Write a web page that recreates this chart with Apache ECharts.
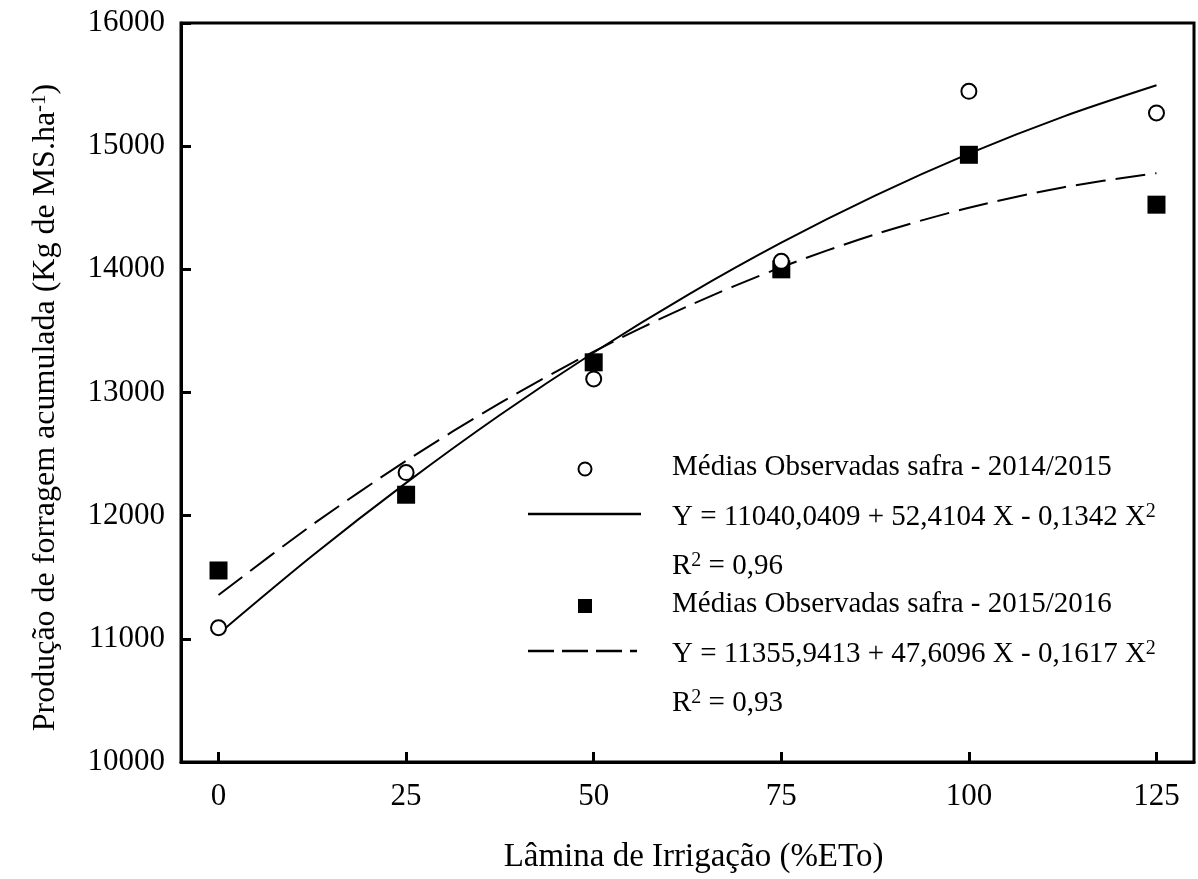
<!DOCTYPE html>
<html>
<head>
<meta charset="utf-8">
<script src="https://cdn.jsdelivr.net/npm/echarts@6/dist/echarts.min.js"></script>
<style>
  html, body { margin: 0; padding: 0; background: #fff; }
  #chart { width: 1198px; height: 879px; }
</style>
</head>
<body>
<div id="chart"></div>
<script>
// Irrigation levels (% ETo) and observed mean forage yield per season
const irrigation = [0, 25, 50, 75, 100, 125];
const obs2014 = [11090, 12350, 13110, 14065, 15445, 15270];
const obs2015 = [11555, 12170, 13245, 14000, 14930, 14525];

// Fitted quadratic curves, sampled every 12.5 % ETo
const fitX = [0, 12.5, 25, 37.5, 50, 62.5, 75, 87.5, 100, 112.5, 125];
const fit2014 = [11040, 11674, 12266, 12817, 13325, 13791, 14216, 14598, 14939, 15238, 15494];
const fit2015 = [11356, 11926, 12445, 12914, 13332, 13700, 14017, 14284, 14500, 14665, 14781];

const xTicks = [0, 25, 50, 75, 100, 125];

const FONT = '"Liberation Serif", "Times New Roman", serif';

const pairs = (xs, ys) => xs.map((x, i) => [x, ys[i]]);

const chart = echarts.init(document.getElementById('chart'), null, { renderer: 'canvas' });

// Legend block drawn as plain graphics inside the plot area
const legX = 672;
const legText = (y, parts) => ({
  type: 'text',
  left: legX,
  top: y,
  style: {
    text: parts,
    font: '29px ' + FONT,
    fill: '#000',
    rich: {
      sup: { fontSize: 20, fontFamily: FONT, verticalAlign: 'top', lineHeight: 30, padding: [0, 0, 18, 0] },
      n: { fontSize: 29, fontFamily: FONT, lineHeight: 30 }
    }
  }
});

chart.setOption({
  animation: false,
  backgroundColor: '#fff',
  grid: {
    left: 181, top: 23, right: 4, bottom: 115,
    show: true, borderColor: '#000', borderWidth: 3, backgroundColor: 'transparent'
  },
  xAxis: {
    type: 'value',
    min: -5, max: 130,
    name: 'Lâmina de Irrigação (%ETo)',
    nameLocation: 'middle',
    nameGap: 79,
    nameTextStyle: { fontFamily: FONT, fontSize: 33, color: '#000', padding: [0, 0, 0, 12] },
    axisLine: { show: true, onZero: false, lineStyle: { color: '#000', width: 3 } },
    axisTick: { show: true, inside: true, length: 10, lineStyle: { color: '#000', width: 3 }, customValues: xTicks },
    axisLabel: { fontFamily: FONT, fontSize: 31, color: '#000', margin: 19, customValues: xTicks },
    splitLine: { show: false }
  },
  yAxis: {
    type: 'value',
    min: 10000, max: 16000, interval: 1000,
    name: '{n|Produção de forragem acumulada (Kg de MS.ha}{s|-1}{n|)}',
    nameLocation: 'middle',
    nameGap: 118,
    nameRotate: 90,
    nameTextStyle: {
      fontFamily: FONT, fontSize: 32, color: '#000',
      padding: [0, 30, 0, 0],
      rich: {
        n: { fontFamily: FONT, fontSize: 32, color: '#000', lineHeight: 34 },
        s: { fontFamily: FONT, fontSize: 21, color: '#000', verticalAlign: 'top', lineHeight: 34, padding: [0, 0, 16, 0] }
      }
    },
    axisLine: { show: true, onZero: false, lineStyle: { color: '#000', width: 3 } },
    axisTick: { show: true, inside: true, length: 10, lineStyle: { color: '#000', width: 3 } },
    axisLabel: { fontFamily: FONT, fontSize: 31, color: '#000', margin: 16, formatter: (v) => String(v) },
    splitLine: { show: false }
  },
  series: [
    {
      name: 'fit2014', type: 'line', data: pairs(fitX, fit2014),
      smooth: 0.3, showSymbol: false, symbol: 'none',
      lineStyle: { color: '#000', width: 2, type: 'solid' }, z: 2
    },
    {
      name: 'fit2015', type: 'line', data: pairs(fitX, fit2015),
      smooth: 0.3, showSymbol: false, symbol: 'none',
      lineStyle: { color: '#000', width: 2, type: [30, 10] }, z: 2
    },
    {
      name: 'Médias Observadas safra - 2014/2015', type: 'scatter', data: pairs(irrigation, obs2014),
      symbol: 'circle', symbolSize: 15,
      itemStyle: { color: '#fff', borderColor: '#000', borderWidth: 2, opacity: 1 }, z: 4
    },
    {
      name: 'Médias Observadas safra - 2015/2016', type: 'scatter', data: pairs(irrigation, obs2015),
      symbol: 'rect', symbolSize: 18,
      itemStyle: { color: '#000', borderWidth: 0, opacity: 1 }, z: 3
    }
  ],
  graphic: [
    { type: 'circle', shape: { cx: 585, cy: 469, r: 6.5 }, style: { fill: '#fff', stroke: '#000', lineWidth: 2 } },
    { type: 'rect', shape: { x: 578, y: 599, width: 14, height: 14 }, style: { fill: '#000' } },
    { type: 'line', shape: { x1: 528, y1: 514, x2: 641, y2: 514 }, style: { stroke: '#000', lineWidth: 2.5 } },
    { type: 'line', shape: { x1: 528, y1: 651, x2: 637, y2: 651 }, style: { stroke: '#000', lineWidth: 2.5, lineDash: [26, 8] } },
    legText(453, '{n|Médias Observadas safra - 2014/2015}'),
    legText(502, '{n|Y = 11040,0409 + 52,4104 X - 0,1342 X}{sup|2}'),
    legText(551, '{n|R}{sup|2}{n| = 0,96}'),
    legText(590, '{n|Médias Observadas safra - 2015/2016}'),
    legText(639, '{n|Y = 11355,9413 + 47,6096 X - 0,1617 X}{sup|2}'),
    legText(688, '{n|R}{sup|2}{n| = 0,93}')
  ]
});
</script>
</body>
</html>
